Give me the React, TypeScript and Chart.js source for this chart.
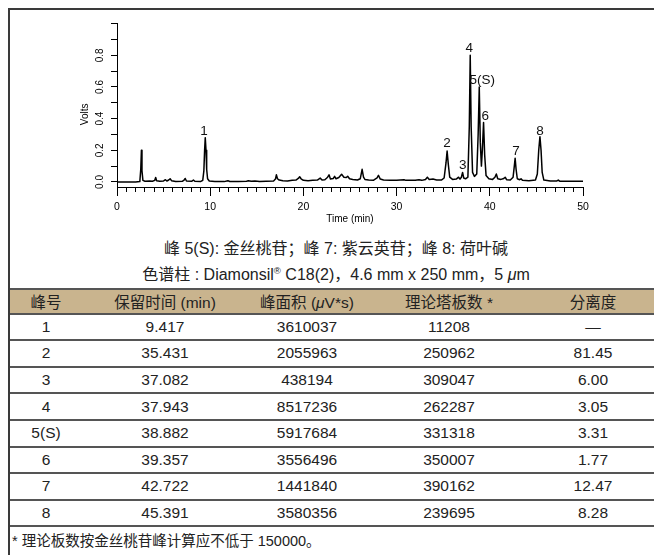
import React, { useEffect, useRef } from 'react';
import { Chart, registerables } from 'chart.js';

Chart.register(...registerables);

// ---------- chromatogram data (time in min, signal in V) ----------
const timeMin = [
  0.0, 1.0, 2.0, 2.45, 2.55, 2.62, 2.68, 2.78, 3.0, 3.5, 3.8, 4.05, 4.15, 4.25, 4.6, 5.0, 5.2, 5.35, 5.55, 5.7,
  5.85, 6.3, 7.0, 7.2, 7.32, 7.45, 8.0, 8.2, 8.35, 9.0, 9.2, 9.32, 9.4, 9.47, 9.55, 9.62, 9.72, 9.9, 10.5, 11.5,
  11.9, 12.1, 13.0, 13.9, 14.1, 14.4, 14.8, 15.3, 16.0, 16.8, 17.0, 17.1, 17.22, 17.4, 17.8, 18.3, 18.8, 19.2, 19.45, 19.6,
  19.75, 20.0, 20.5, 21.0, 21.5, 21.8, 22.0, 22.3, 22.6, 22.75, 22.9, 23.2, 23.35, 23.5, 23.8, 24.1, 24.35, 24.6, 24.75, 24.95,
  25.3, 25.8, 26.1, 26.3, 26.45, 26.6, 27.0, 27.5, 27.9, 28.05, 28.25, 28.6, 29.3, 30.0, 30.8, 31.0, 32.0, 32.4, 32.7, 33.1,
  33.3, 33.5, 33.9, 34.3, 34.8, 35.1, 35.3, 35.42, 35.55, 35.7, 36.0, 36.4, 36.65, 36.8, 36.95, 37.08, 37.2, 37.4, 37.65, 37.8,
  37.9, 38.0, 38.15, 38.35, 38.6, 38.75, 38.87, 38.98, 39.1, 39.2, 39.33, 39.45, 39.6, 39.9, 40.3, 40.55, 40.7, 40.85, 41.2, 41.5,
  41.65, 41.8, 42.2, 42.5, 42.63, 42.72, 42.82, 42.95, 43.2, 43.35, 43.5, 44.2, 44.9, 45.1, 45.25, 45.38, 45.5, 45.62, 45.8, 46.5,
  47.2, 47.35, 47.5, 48.5, 49.5, 50.0,
];
const volts = [
  0.0, 0.0, 0.0, 0.002, 0.08, 0.2, 0.07, 0.01, 0.004, 0.006, 0.004, 0.01, 0.028, 0.008, 0.004, 0.006, 0.014, 0.006, 0.012, 0.02,
  0.008, 0.003, 0.004, 0.012, 0.022, 0.006, 0.004, 0.012, 0.004, 0.003, 0.01, 0.07, 0.2, 0.28, 0.2, 0.08, 0.02, 0.006, 0.003, 0.002,
  0.008, 0.003, 0.002, 0.004, 0.008, 0.004, 0.006, 0.003, 0.004, 0.006, 0.018, 0.045, 0.02, 0.012, 0.008, 0.006, 0.01, 0.012, 0.022, 0.033,
  0.02, 0.01, 0.008, 0.01, 0.012, 0.024, 0.012, 0.014, 0.03, 0.045, 0.018, 0.022, 0.035, 0.02, 0.028, 0.048, 0.03, 0.028, 0.036, 0.02,
  0.016, 0.012, 0.02, 0.08, 0.03, 0.016, 0.012, 0.01, 0.025, 0.042, 0.018, 0.012, 0.01, 0.01, 0.014, 0.01, 0.01, 0.014, 0.01, 0.016,
  0.03, 0.016, 0.018, 0.012, 0.012, 0.025, 0.12, 0.195, 0.11, 0.03, 0.016, 0.018, 0.03, 0.018, 0.03, 0.06, 0.025, 0.02, 0.03, 0.35,
  0.8, 0.35, 0.06, 0.035, 0.05, 0.3, 0.6, 0.25, 0.1, 0.2, 0.375, 0.17, 0.04, 0.02, 0.016, 0.03, 0.05, 0.02, 0.016, 0.022,
  0.03, 0.014, 0.012, 0.03, 0.1, 0.15, 0.08, 0.02, 0.014, 0.02, 0.01, 0.008, 0.012, 0.05, 0.2, 0.286, 0.2, 0.06, 0.012, 0.006,
  0.006, 0.012, 0.005, 0.004, 0.004, 0.004,
];

// peak annotations
const peakLabels = ['1', '2', '3', '4', '5(S)', '6', '7', '8'];
const peakLabelTime = [9.33, 35.4, 37.1, 37.8, 39.2, 39.5, 42.8, 45.4];
const peakLabelVolts = [0.318, 0.244, 0.107, 0.845, 0.644, 0.413, 0.191, 0.322];

// axes
const xMinorTicks = Array.from({ length: 51 }, (_, i) => i);
const xMajorTicks = [0, 10, 20, 30, 40, 50];
const yTicks = [0, 0.1, 0.2, 0.3, 0.4, 0.5, 0.6, 0.7, 0.8, 0.9, 1.0];
const yTickLabels = ['0.0', '', '0.2', '', '0.4', '', '0.6', '', '0.8', '', ''];
const yTitle = 'Volts';
const Y_MIN = -0.032;
const Y_TITLE_SHIFT = 9; // px below the centre of the plot area

// captions
const caption1 = '峰 5(S): 金丝桃苷；峰 7: 紫云英苷；峰 8: 荷叶碱';

// table
const tableHeaders = ['峰号', '保留时间 (min)', '峰面积 (μV*s)', '理论塔板数 *', '分离度'];
const peakIds = ['1', '2', '3', '4', '5(S)', '6', '7', '8'];
const retentionTimes = ['9.417', '35.431', '37.082', '37.943', '38.882', '39.357', '42.722', '45.391'];
const peakAreas = ['3610037', '2055963', '438194', '8517236', '5917684', '3556496', '1441840', '3580356'];
const plateCounts = ['11208', '250962', '309047', '262287', '331318', '350007', '390162', '239695'];
const resolutions = ['—', '81.45', '6.00', '3.05', '3.31', '1.77', '12.47', '8.28'];
const footnote = '* 理论板数按金丝桃苷峰计算应不低于 150000。';

const FONT = '"Liberation Sans", Arial, "Noto Sans CJK SC", sans-serif';
const colWidths = [72, 166, 118, 166, 130];
const colPadRight = [0, 0, 0, 0, 8];
const ROW_H = 26.6;
const LINE = '2px solid #555';

document.documentElement.style.overflow = 'hidden';

const peakLabelPlugin = {
  id: 'peakLabels',
  afterDatasetsDraw(chart: any) {
    const { ctx, chartArea } = chart;
    const xs = chart.scales.x;
    const ys = chart.scales.y;
    ctx.save();
    ctx.font = '13.5px "Liberation Sans", Arial, sans-serif';
    ctx.fillStyle = '#111';
    ctx.textAlign = 'center';
    ctx.textBaseline = 'middle';
    peakLabels.forEach((txt, i) => {
      ctx.fillText(txt, xs.getPixelForValue(peakLabelTime[i]), ys.getPixelForValue(peakLabelVolts[i]));
    });
    // y-axis title
    ctx.font = '10px "Liberation Sans", Arial, sans-serif';
    ctx.fillStyle = '#000';
    ctx.translate(ys.left + 10, (chartArea.top + chartArea.bottom) / 2 + Y_TITLE_SHIFT);
    ctx.rotate(-Math.PI / 2);
    ctx.fillText(yTitle, 0, 0);
    ctx.restore();
  },
};

function renderMu(text: string) {
  const parts = text.split('μ');
  if (parts.length === 1) return text;
  return (
    <>
      {parts[0]}
      <i>μ</i>
      {parts[1]}
    </>
  );
}

function ChromChart() {
  const ref = useRef<HTMLCanvasElement | null>(null);
  useEffect(() => {
    if (!ref.current) return;
    Chart.defaults.font.family = '"Liberation Sans", Arial, sans-serif';
    Chart.defaults.color = '#000';
    const chart = new Chart(ref.current, {
      type: 'line',
      data: {
        datasets: [
          {
            data: timeMin.map((t, i) => ({ x: t, y: volts[i] })),
            borderColor: '#000',
            borderWidth: 1.5,
            borderJoinStyle: 'round',
            pointRadius: 0,
            tension: 0,
            fill: false,
          },
        ],
      },
      options: {
        responsive: false,
        animation: false,
        devicePixelRatio: 1,
        layout: { padding: { left: 65, right: 79, top: 13.7, bottom: 11 } },
        plugins: { legend: { display: false }, tooltip: { enabled: false } },
        scales: {
          x: {
            type: 'linear',
            position: 'bottom',
            min: 0,
            max: 50,
            afterBuildTicks: (s: any) => {
              s.ticks = xMinorTicks.map((v) => ({ value: v }));
            },
            afterFit: (s: any) => {
              s.height = 38;
            },
            grid: { drawOnChartArea: false, drawTicks: true, tickLength: 5, color: '#000' },
            border: { display: true, color: '#000', width: 1 },
            ticks: {
              autoSkip: false,
              maxRotation: 0,
              padding: 8.4,
              color: '#000',
              font: { size: 10.5 },
              callback: (v: any) => (xMajorTicks.includes(Number(v)) ? String(v) : ''),
            },
            title: { display: true, text: 'Time (min)', color: '#000', font: { size: 10 }, padding: { top: 0, bottom: 0 } },
          },
          xMajor: {
            type: 'linear',
            axis: 'x',
            position: { y: Y_MIN },
            min: 0,
            max: 50,
            afterBuildTicks: (s: any) => {
              s.ticks = xMajorTicks.map((v) => ({ value: v }));
            },
            grid: { drawOnChartArea: false, drawTicks: true, tickLength: 9, color: '#000' },
            border: { display: false },
            ticks: { display: false, autoSkip: false },
          },
          y: {
            type: 'linear',
            position: 'left',
            min: Y_MIN,
            max: 1,
            afterBuildTicks: (s: any) => {
              s.ticks = yTicks.map((v) => ({ value: v }));
            },
            afterFit: (s: any) => {
              s.width = 42;
            },
            grid: { drawOnChartArea: false, drawTicks: true, tickLength: 6, color: '#000' },
            border: { display: true, color: '#000', width: 1 },
            ticks: {
              autoSkip: false,
              minRotation: 90,
              maxRotation: 90,
              crossAlign: 'center',
              padding: 3.3,
              color: '#000',
              font: { size: 10 },
              callback: (_v: any, i: number) => yTickLabels[i],
            },
            title: { display: false },
          },
        },
      } as any,
      plugins: [peakLabelPlugin],
    });
    return () => chart.destroy();
  }, []);
  return <canvas ref={ref} width={652} height={226} style={{ display: 'block', width: 652, height: 226 }} />;
}

function Row({ cells, header }: { cells: string[]; header?: boolean }) {
  return (
    <div
      style={{
        display: 'flex',
        height: ROW_H,
        boxSizing: 'border-box',
        borderTop: header ? LINE : undefined,
        borderBottom: LINE,
        background: header ? '#c9b48e' : 'transparent',
        alignItems: 'center',
      }}
    >
      {cells.map((c, i) => (
        <div
          key={i}
          style={{
            width: colWidths[i],
            paddingRight: colPadRight[i],
            boxSizing: 'border-box',
            textAlign: 'center',
            whiteSpace: 'nowrap',
          }}
        >
          {renderMu(c)}
        </div>
      ))}
    </div>
  );
}

export default function App() {
  return (
    <div
      style={{
        width: 652,
        borderTop: '2px solid #3a3a3a',
        borderLeft: '2px solid #3a3a3a',
        fontFamily: FONT,
        color: '#222',
        background: '#fff',
      }}
    >
      <ChromChart />
      <div style={{ height: 52, textAlign: 'center', fontSize: 16, lineHeight: '26px', color: '#222' }}>
        <div>{caption1}</div>
        <div>
          色谱柱 : Diamonsil
          <span style={{ fontSize: '0.6em', position: 'relative', top: '-0.6em' }}>®</span> C18(2)，4.6 mm x 250 mm，5{' '}
          <i>μ</i>m
        </div>
      </div>
      <div style={{ fontSize: 15.5 }}>
        <Row cells={tableHeaders} header />
        {peakIds.map((p, i) => (
          <Row key={p} cells={[p, retentionTimes[i], peakAreas[i], plateCounts[i], resolutions[i]]} />
        ))}
      </div>
      <div style={{ height: 28, lineHeight: '28px', fontSize: 14.5, paddingLeft: 2 }}>{footnote}</div>
    </div>
  );
}
